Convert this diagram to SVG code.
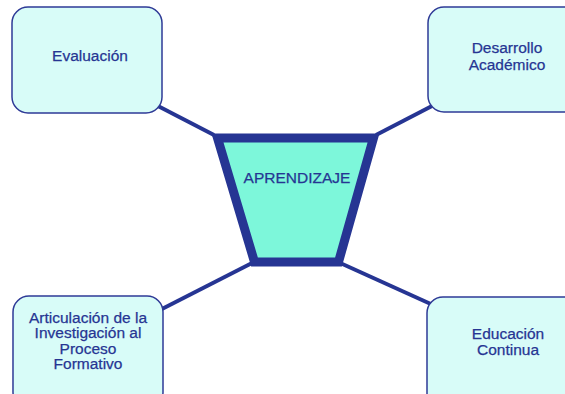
<svg xmlns="http://www.w3.org/2000/svg" width="565" height="394" viewBox="0 0 565 394">
<style>
.box{fill:#D8FCF8;stroke:#2E3A96;stroke-width:1.5}
.t{font-family:"Liberation Sans",Arial,sans-serif;font-size:15.5px;fill:#263593;stroke:#263593;stroke-width:0.25;text-anchor:middle}
.c{stroke:#263593;stroke-width:4;fill:none;stroke-linecap:butt}
</style>
<rect width="565" height="394" fill="#FFFFFF"/>
<g id="connectors">
<line class="c" x1="156" y1="105" x2="214" y2="135"/>
<line class="c" x1="432" y1="106" x2="376" y2="135"/>
<line class="c" x1="160" y1="310" x2="254" y2="262"/>
<line class="c" x1="433" y1="305" x2="338" y2="262"/>
</g>
<g id="evaluacion">
<rect class="box" x="12" y="7" width="150" height="106" rx="16"/>
<text class="t" x="90" y="61">Evaluación</text>
</g>
<g id="desarrollo">
<rect class="box" x="428" y="7" width="152" height="105" rx="16"/>
<text class="t" x="507" y="53">Desarrollo</text>
<text class="t" x="507" y="69.5">Académico</text>
</g>
<g id="articulacion">
<rect class="box" x="13" y="296" width="150" height="112" rx="16"/>
<text class="t" x="88" y="322.5">Articulación de la</text>
<text class="t" x="88" y="338">Investigación al</text>
<text class="t" x="88" y="353.5">Proceso</text>
<text class="t" x="88" y="369">Formativo</text>
</g>
<g id="educacion">
<rect class="box" x="427" y="297" width="152" height="112" rx="16"/>
<text class="t" x="508" y="339">Educación</text>
<text class="t" x="508" y="355">Continua</text>
</g>
<g id="aprendizaje">
<polygon points="217.5,138 373.5,138 338.5,262 254.5,262" fill="#7DF7DA" stroke="#263593" stroke-width="9" stroke-linejoin="miter"/>
<text class="t" x="297" y="183">APRENDIZAJE</text>
</g>
</svg>
